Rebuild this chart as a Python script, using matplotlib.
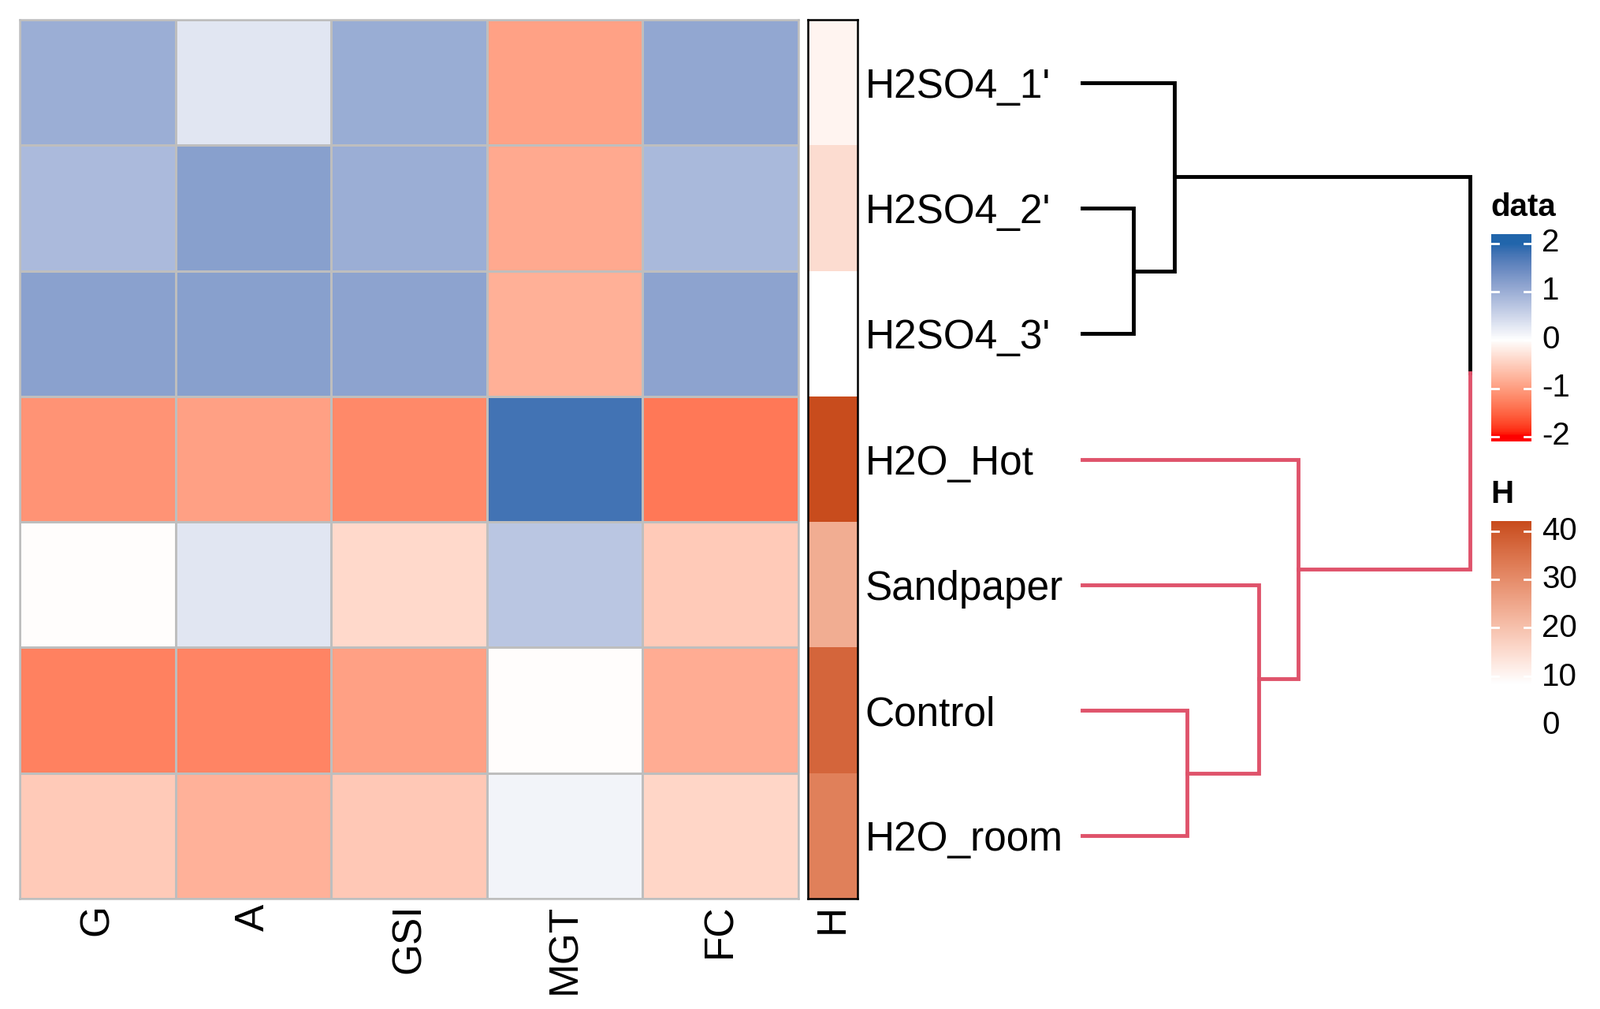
import numpy as np
import matplotlib
matplotlib.use("Agg")
import matplotlib.pyplot as plt
import matplotlib.colors as mcolors

plt.rcParams['font.family'] = ['Liberation Sans', 'DejaVu Sans']

# data
samples = ["H2SO4_1'", "H2SO4_2'", "H2SO4_3'", "H2O_Hot", "Sandpaper", "Control", "H2O_room"]
traits = ["G", "A", "GSI", "MGT", "FC"]
G = [1.0, 0.85, 1.18, -1.1, -0.02, -1.28, -0.55]
A = [0.3, 1.2, 1.2, -0.98, 0.3, -1.25, -0.8]
GSI = [1.02, 1.0, 1.15, -1.2, -0.4, -0.97, -0.57]
MGT = [-0.96, -0.88, -0.82, 1.8, 0.7, -0.02, 0.13]
FC = [1.1, 0.86, 1.15, -1.35, -0.55, -0.85, -0.43]
H = [10.5, 15, 8.3, 42.1, 24, 37.5, 32.5]

# row clustering (leaf indices in display order), merge heights
merges = [(1, 2, 0.50), (0, 7, 0.90), (5, 6, 1.03), (4, 9, 1.73), (3, 10, 2.12), (8, 11, 3.80)]
merge_cols = ["black", "black", "#DF536B", "#DF536B", "#DF536B", None]

data_ticks = [2, 1, 0, -1, -2]
h_ticks = [40, 30, 20, 10, 0]

W, Hh = 2031, 1280


def box(x0, y0, x1, y1):
    return [x0 / W, 1 - y1 / Hh, (x1 - x0) / W, (y1 - y0) / Hh]


# colour ramps interpolated in LAB space
WHITE = np.array([0.95047, 1.0, 1.08883])
M = np.array([[0.4124, 0.3576, 0.1805], [0.2126, 0.7152, 0.0722], [0.0193, 0.1192, 0.9505]])


def hex2lab(c):
    rgb = np.array(mcolors.to_rgb(c))
    lin = np.where(rgb <= 0.04045, rgb / 12.92, ((rgb + 0.055) / 1.055) ** 2.4)
    xyz = M @ lin / WHITE
    f = np.where(xyz > 0.008856, np.cbrt(xyz), 7.787 * xyz + 16 / 116)
    return np.array([116 * f[1] - 16, 500 * (f[0] - f[1]), 200 * (f[1] - f[2])])


def lab2rgb(lab):
    fy = (lab[0] + 16) / 116
    f = np.array([fy + lab[1] / 500, fy, fy - lab[2] / 200])
    xyz = np.where(f ** 3 > 0.008856, f ** 3, (f - 16 / 116) / 7.787) * WHITE
    lin = np.linalg.inv(M) @ xyz
    lin = np.clip(lin, 0, 1)
    rgb = np.where(lin <= 0.0031308, 12.92 * lin, 1.055 * lin ** (1 / 2.4) - 0.055)
    return np.clip(rgb, 0, 1)


def lab_cmap(breaks, cols, n=256):
    labs = [hex2lab(c) for c in cols]
    out = []
    for v in np.linspace(breaks[0], breaks[-1], n):
        i = min(np.searchsorted(breaks, v, side='right') - 1, len(breaks) - 2)
        t = (v - breaks[i]) / (breaks[i + 1] - breaks[i])
        out.append(lab2rgb(labs[i] * (1 - t) + labs[i + 1] * t))
    return mcolors.ListedColormap(out), mcolors.Normalize(breaks[0], breaks[-1])


data_cmap, data_norm = lab_cmap([-2, 0, 2], ["#FF0000", "#FFFFFF", "#2166AC"])
h_cmap, h_norm = lab_cmap([min(H), max(H)], ["#FFFFFF", "#C84C1D"])

fig = plt.figure(figsize=(W / 100, Hh / 100), dpi=100)
FS = 37

# main heatmap
mat = np.array([G, A, GSI, MGT, FC]).T
ax = fig.add_axes(box(25, 25, 1013, 1140))
ax.pcolormesh(mat, cmap=data_cmap, norm=data_norm, edgecolors="#BEBEBE", linewidth=1.8)
ax.set_xlim(0, len(traits))
ax.set_ylim(len(samples), 0)
for s in ax.spines.values():
    s.set_edgecolor("#BEBEBE")
    s.set_linewidth(1.8)
ax.set_xticks(np.arange(len(traits)) + 0.5)
ax.set_xticklabels(traits, rotation=90, fontsize=FS)
ax.set_yticks([])
ax.tick_params(axis='x', length=0, pad=5)

# H annotation column
axh = fig.add_axes(box(1025, 25, 1088, 1140))
axh.pcolormesh(np.array(H).reshape(-1, 1), cmap=h_cmap, norm=h_norm)
axh.set_xlim(0, 1)
axh.set_ylim(len(samples), 0)
for s in axh.spines.values():
    s.set_edgecolor("black")
    s.set_linewidth(1.8)
axh.set_xticks([0.5])
axh.set_xticklabels(["H"], rotation=90, fontsize=FS)
axh.tick_params(axis='x', length=0, pad=5)
axh.yaxis.tick_right()
axh.set_yticks(np.arange(len(samples)) + 0.5)
axh.set_yticklabels(samples, fontsize=FS)
axh.tick_params(axis='y', length=0, pad=7)

# dendrogram
axd = fig.add_axes(box(1373, 25, 1865, 1140))
axd.set_ylim(len(samples), 0)
axd.set_xlim(0, merges[-1][2])
axd.axis('off')
node_y = {i: i + 0.5 for i in range(len(samples))}
node_x = {i: 0.0 for i in range(len(samples))}
lw = 3.5
for k, (a, b, h) in enumerate(merges):
    nid = len(samples) + k
    c = merge_cols[k]
    ya, yb = node_y[a], node_y[b]
    if c is None:
        ca, cb = merge_cols[a - len(samples)], merge_cols[b - len(samples)]
        ym = (ya + yb) / 2
        axd.plot([node_x[a], h, h], [ya, ya, ym], color=ca, lw=lw, clip_on=False, solid_joinstyle='miter')
        axd.plot([node_x[b], h, h], [yb, yb, ym], color=cb, lw=lw, clip_on=False, solid_joinstyle='miter')
    else:
        axd.plot([node_x[a], h, h, node_x[b]], [ya, ya, yb, yb], color=c, lw=lw,
                 clip_on=False, solid_joinstyle='miter')
    node_y[nid] = (ya + yb) / 2
    node_x[nid] = h


# legends
def legend_bar(y_top, y_bot, lo, hi, cmap, norm, ticks, y_tick_top, y_tick_bot, title):
    axl = fig.add_axes(box(1892, y_top, 1943, y_bot))
    grad = np.linspace(lo, hi, 200).reshape(-1, 1)
    axl.imshow(grad, cmap=cmap, norm=norm, aspect='auto', origin='lower', extent=[0, 1, lo, hi])
    axl.set_xlim(0, 1)
    axl.set_ylim(lo, hi)
    axl.axis('off')
    t0, t1 = ticks[0], ticks[-1]
    for t in ticks:
        ypx = y_tick_top + (t0 - t) / (t0 - t1) * (y_tick_bot - y_tick_top)
        yf = 1 - ypx / Hh
        fig.text(1956 / W, yf, str(t), fontsize=29, ha='left', va='center')
        if lo <= t <= hi:
            axl.plot([0, 0.17], [t, t], color='white', lw=2)
            axl.plot([0.83, 1], [t, t], color='white', lw=2)
    fig.text(1891 / W, 1 - (y_top - 34) / Hh, title, fontsize=29, fontweight='bold',
             ha='left', va='center')


legend_bar(297, 560, -2.1, 2.19, data_cmap, data_norm, data_ticks, 308, 553, "data")
legend_bar(661, 868, min(H), max(H), h_cmap, h_norm, h_ticks, 674, 920, "H")

fig.savefig("out.png", dpi=100)
